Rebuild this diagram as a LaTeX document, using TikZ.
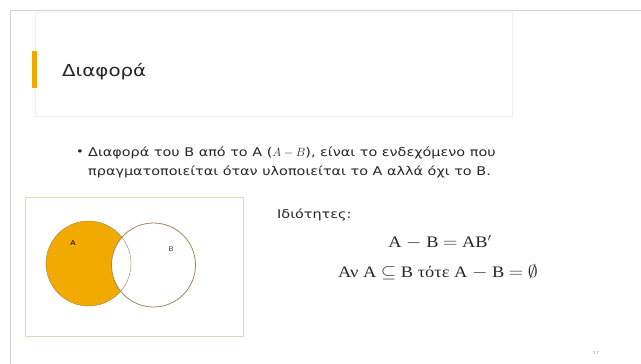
\documentclass[tikz,border=0pt]{standalone}
\usepackage{amssymb}
\usepackage{graphicx}
\usepackage{fontspec}
\setmainfont[FakeStretch=1.2]{DejaVu Sans}
\newfontfamily\grserif{Liberation Serif}
\newcommand\widen[1]{\scalebox{1.15}[1]{#1}}
\definecolor{accent}{RGB}{242,169,0}
\definecolor{vennline}{RGB}{160,135,90}
\definecolor{boxline}{RGB}{232,214,176}
\begin{document}
\begin{tikzpicture}[x=1pt,y=-1pt,
  txt/.style={inner sep=0pt,anchor=west,text=black!85},
  eq/.style={inner sep=0pt,font=\grserif\fontsize{16}{18}\selectfont,text=black!85}]
\useasboundingbox (0,0) rectangle (641,364);
% slide frame
\draw[black!18] (10,364) -- (10,10) -- (641,10);
% title box
\draw[black!6,fill=white] (35,12) rectangle (512,116);
\fill[accent] (32,51) rectangle (37,88);
\node[txt,font=\fontsize{16.5}{20}\selectfont] (title) at (62,72) {Διαφορά};
% bullet
\node[txt,font=\fontsize{11}{13}\selectfont] (dot) at (76,153) {•};
\node[txt,font=\fontsize{12}{14}\selectfont] (line1) at (88,153) {Διαφορά του B από το A ($A-B$), είναι το ενδεχόμενο που};
\node[txt,font=\fontsize{12}{14}\selectfont] (line2) at (88,172) {πραγματοποιείται όταν υλοποιείται το A αλλά όχι το B.};
% venn
\draw[boxline,line width=1pt] (25,197) rectangle (243,336);
\coordinate (A) at (88.5,263.5);
\coordinate (B) at (153.5,265);
\begin{scope}
\clip (A) circle[radius=42.5];
\fill[accent] (A) circle[radius=42.5];
\fill[white] (B) circle[radius=42];
\end{scope}
\draw[vennline] (A) circle[radius=42.5];
\draw[vennline,line width=0.8pt] (B) circle[radius=42];
\node[font=\fontsize{6.5}{8}\selectfont,inner sep=0pt] (la) at (73,243) {A};
\node[font=\fontsize{6.5}{8}\selectfont,inner sep=0pt,text=black!70] (lb) at (171,249) {B};
% properties
\node[txt,font=\fontsize{12}{14}\selectfont] (prop) at (277,215) {Ιδιότητες:};
\node[eq] (eq1) at (440,242) {\widen{A $-$ B $=$ AB$'$}};
\node[eq] (eq2) at (438,272) {\widen{Αν A $\subseteq$ B τότε A $-$ B $=$ $\emptyset$}};
\node[font=\fontsize{4}{5}\selectfont,text=black!40,inner sep=0pt] (page) at (596,353) {17};
\end{tikzpicture}
\end{document}
